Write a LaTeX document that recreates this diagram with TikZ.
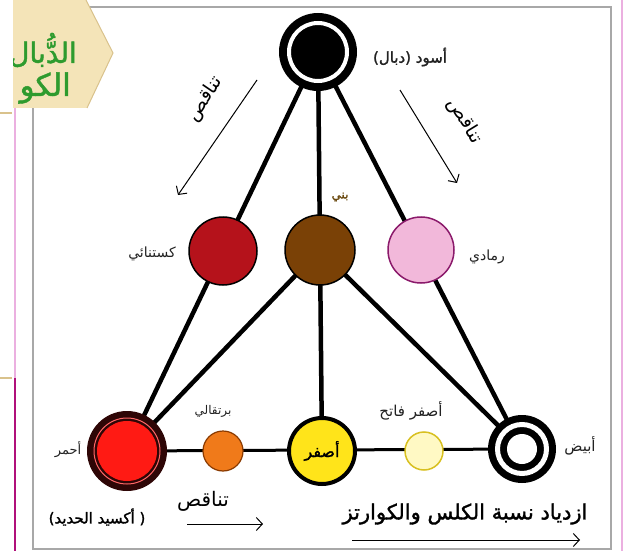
\documentclass[tikz,border=0pt]{standalone}
\usepackage{fontspec}
\usetikzlibrary{arrows.meta,backgrounds}
\TeXXeTstate=1
\newfontfamily\ar[Script=Arabic]{DejaVu Sans}
\newfontfamily\arb[Script=Arabic,FakeBold=1.5]{DejaVu Sans}
\definecolor{chestc}{HTML}{B5121B}
\definecolor{brownc}{HTML}{7A4106}
\definecolor{pinkc}{HTML}{F2B8DA}
\definecolor{pinkb}{HTML}{8B1A6B}
\definecolor{redc}{HTML}{FF1A14}
\definecolor{reddark}{HTML}{2E0606}
\definecolor{orangec}{HTML}{F07A1A}
\definecolor{orangeb}{HTML}{8A3A00}
\definecolor{yellowc}{HTML}{FFE41A}
\definecolor{lyellowc}{HTML}{FFF9C4}
\definecolor{lyellowb}{HTML}{D8C020}
\definecolor{framec}{HTML}{A8A8A8}
\definecolor{sidepink}{HTML}{EBB0E0}
\definecolor{sidemag}{HTML}{B0107A}
\definecolor{beige}{HTML}{F4E4B8}
\definecolor{beigeb}{HTML}{D9C28C}
\definecolor{greenc}{HTML}{2E9B2E}
\definecolor{lblbrown}{HTML}{6B4A10}
\definecolor{lblc}{HTML}{222222}
\tikzset{
  dot/.style={circle,inner sep=0pt},
  lbl/.style={inner sep=1pt,text=lblc,font=\ar\fontsize{14}{16}\selectfont},
  bond/.style={line width=4.5pt,black},
  base/.style={line width=3pt,black},
  trend/.style={line width=1pt,-{Straight Barb[length=6pt,width=13pt]}},
}
\begin{document}
\begin{tikzpicture}[x=1pt,y=-1pt]
\useasboundingbox (0,0) rectangle (627,551);
% nodes
\node[dot,minimum size=78pt,fill=black] (top) at (318,52) {};
\node[dot,minimum size=68pt,fill=chestc,draw=black,line width=1.5pt] (chest) at (223,251) {};
\node[dot,minimum size=70pt,fill=brownc,draw=black,line width=1.5pt] (brown) at (320,250) {};
\node[dot,minimum size=66pt,fill=pinkc,draw=pinkb,line width=1.5pt] (pink) at (421,250) {};
\node[dot,minimum size=80pt,fill=reddark] (red) at (127,451) {};
\node[dot,minimum size=40pt,fill=orangec,draw=orangeb,line width=1.2pt] (orange) at (223,451) {};
\node[dot,minimum size=66pt,fill=yellowc,draw=black,line width=4pt] (yellow) at (322,451) {};
\node[dot,minimum size=38pt,fill=lyellowc,draw=lyellowb,line width=1.5pt] (lyellow) at (424,451) {};
\node[dot,minimum size=68pt,fill=black] (white) at (522,449) {};
% rings
\draw[white,line width=4pt] (top.center) circle[radius=29];
\draw[white,line width=5pt] (white.center) circle[radius=24.5];
\fill[white] (white.center) circle[radius=15];
\draw[red!60!white,line width=1pt] (red.center) circle[radius=33];
\fill[redc] (red.center) circle[radius=30];
% background, frame and connectors behind the nodes
\begin{pgfonlayer}{background}
\fill[white] (0,0) rectangle (627,551);
\draw[sidepink,line width=1.5pt] (622,0) -- (622,551);
\draw[sidepink,line width=1.5pt] (15,108) -- (15,378);
\draw[sidemag,line width=1.5pt] (15,378) -- (15,551);
\draw[beigeb,line width=2pt] (0,113) -- (12,113);
\draw[beigeb,line width=2pt] (0,378) -- (12,378);
\draw[framec,line width=1.5pt] (33,7) rectangle (611,549);
\draw[bond] (top.center) -- (red.center);
\draw[bond] (top.center) -- (white.center);
\draw[bond] (top.center) -- (yellow.center);
\draw[bond] (brown.center) -- (red.center);
\draw[bond] (brown.center) -- (white.center);
\draw[base] (red.center) -- (white.center);
\end{pgfonlayer}
% beige tag
\fill[beige] (13,0) -- (86,0) -- (113,53) -- (87,108) -- (13,108) -- cycle;
\draw[beigeb,line width=1pt] (86,0) -- (113,53) -- (87,108);
\begin{scope}
\clip (13,0) rectangle (120,110);
\node[anchor=east,text=greenc,font=\arb\fontsize{28}{30}\selectfont,inner sep=0pt] (tag1) at (77,50) {\beginR الدُّبال\endR};
\node[anchor=east,text=greenc,font=\arb\fontsize{31}{33}\selectfont,inner sep=0pt] (tag2) at (71,88) {\beginR الكو\endR};
\end{scope}
% labels
\node[lbl,font=\arb\fontsize{15}{17}\selectfont] (ltop) at (410,57) {\beginR أسود (دبال)\endR};
\node[lbl] (lchest) at (152,254) {\beginR كستنائي\endR};
\node[lbl,text=lblbrown,font=\arb\fontsize{12}{14}\selectfont] (lbrown) at (340,197) {\beginR بني\endR};
\node[lbl] (lpink) at (487,257) {\beginR رمادي\endR};
\node[lbl,font=\ar\fontsize{13}{15}\selectfont] (lred) at (68,450) {\beginR أحمر\endR};
\node[lbl,font=\ar\fontsize{12}{14}\selectfont] (lorange) at (213,411) {\beginR برتقالي\endR};
\node[lbl,text=black,font=\arb\fontsize{16}{18}\selectfont] (lyellow) at (yellow.center) {\beginR أصفر\endR};
\node[lbl,font=\ar\fontsize{15}{17}\selectfont] (llyellow) at (411,411) {\beginR أصفر فاتح\endR};
\node[lbl,font=\ar\fontsize{15}{17}\selectfont] (lwhite) at (580,446) {\beginR أبيض\endR};
% trend arrows
\coordinate (a1s) at (257,80);
\coordinate (a1e) at (178,195);
\draw[trend] (a1s) -- (a1e);
\node[lbl,text=black,font=\ar\fontsize{19}{21}\selectfont,rotate=55.5] (t1) at (205,99) {\beginR تناقص\endR};
\coordinate (a2s) at (400,90);
\coordinate (a2e) at (457,183);
\draw[trend] (a2s) -- (a2e);
\node[lbl,text=black,font=\ar\fontsize{19}{21}\selectfont,rotate=-58.5] (t2) at (465,121) {\beginR تناقص\endR};
\node[lbl,text=black,font=\ar\fontsize{20}{22}\selectfont] (t3) at (203,501) {\beginR تناقص\endR};
\node[lbl,text=black,font=\arb\fontsize{15}{17}\selectfont] (oxide) at (97,517) {\beginR( أكسيد الحديد)\endR};
\coordinate (a3s) at (187,524);
\coordinate (a3e) at (263,524);
\draw[trend] (a3s) -- (a3e);
\node[lbl,text=black,font=\arb\fontsize{21}{23}\selectfont] (incr) at (465,514) {\beginR ازدياد نسبة الكلس والكوارتز\endR};
\coordinate (a4s) at (352,540);
\coordinate (a4e) at (580,540);
\draw[trend] (a4s) -- (a4e);
\end{tikzpicture}
\end{document}
